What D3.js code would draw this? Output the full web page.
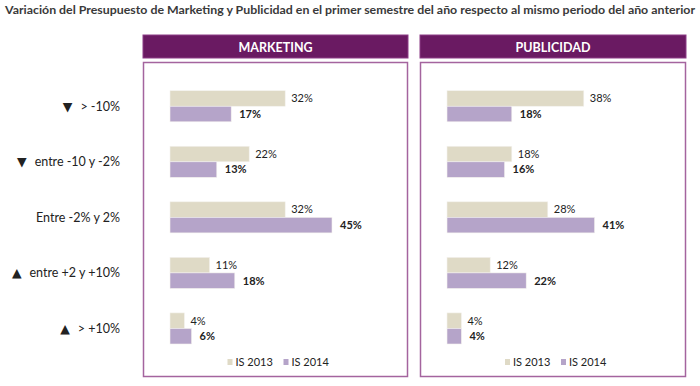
<!DOCTYPE html>
<html>
<head>
<meta charset="utf-8">
<script src="https://cdn.jsdelivr.net/npm/d3@7"></script>
<style>
  body { margin: 0; background: #fff; }
  svg { display: block; }
</style>
</head>
<body>
<svg id="chart" width="700" height="386"></svg>
<script>
const title = 'Variación del Presupuesto de Marketing y Publicidad en el primer semestre del año respecto al mismo periodo del año anterior';
const categories = ['▼ > -10%', '▼ entre -10 y -2%', 'Entre -2% y 2%', '▲ entre +2 y +10%', '▲ > +10%'];
const seriesNames = ['IS 2013', 'IS 2014'];
const panelNames = ['MARKETING', 'PUBLICIDAD'];
const marketing2013 = [32, 22, 32, 11, 4];
const marketing2014 = [17, 13, 45, 18, 6];
const publicidad2013 = [38, 18, 28, 12, 4];
const publicidad2014 = [18, 16, 41, 22, 4];

const colors = ['#dfdac6', '#b5a4c9'];
const font = 'Lato, "Open Sans", sans-serif';

const svg = d3.select('#chart');

svg.append('text')
    .attr('x', 5)
    .attr('y', 14)
    .attr('textLength', 690)
    .attr('lengthAdjust', 'spacingAndGlyphs')
    .style('font-family', font)
    .style('font-size', '11.5px')
    .style('font-weight', 700)
    .style('fill', '#3a3a3a')
    .text(title);

const y = d3.scaleBand()
    .domain(categories)
    .range([90.7, 344])
    .paddingInner(0.44)
    .paddingOuter(0);

const ySeries = d3.scaleBand()
    .domain(seriesNames)
    .range([0, y.bandwidth()]);

const x = d3.scaleLinear().domain([0, 50]).range([0, 180]);

// category labels on the left, triangle drawn a bit bigger
const catLabels = svg.append('g')
    .selectAll('text')
    .data(categories)
    .enter()
    .append('text')
    .attr('x', 120)
    .attr('y', (d) => y(d) + y.bandwidth() / 2)
    .attr('dy', '0.35em')
    .attr('text-anchor', 'end')
    .style('font-family', font)
    .style('font-size', '12.5px')
    .style('fill', '#222');

catLabels.each(function(d) {
  const t = d3.select(this);
  const first = d.charAt(0);
  if (first === '▼' || first === '▲') {
    t.append('tspan')
        .style('font-family', '"DejaVu Sans", sans-serif')
        .style('font-size', '12.5px')
        .text(first + '\u00a0\u00a0');
    t.append('tspan').text(d.slice(2));
  } else {
    t.text(d);
  }
});

const panels = [
  { name: panelNames[0], x0: 143, x1: 408, barX: 170, values: [marketing2013, marketing2014] },
  { name: panelNames[1], x0: 420, x1: 686, barX: 447, values: [publicidad2013, publicidad2014] }
];

panels.forEach((p) => {
  const g = svg.append('g');
  const w = p.x1 - p.x0;

  g.append('rect')
      .attr('x', p.x0)
      .attr('y', 35)
      .attr('width', w)
      .attr('height', 23)
      .style('fill', '#6a1a62')
      .style('stroke', '#8c3c86')
      .style('stroke-width', 1);

  g.append('text')
      .attr('x', p.x0 + w / 2)
      .attr('y', 47)
      .attr('dy', '0.36em')
      .attr('text-anchor', 'middle')
      .style('font-family', font)
      .style('font-size', '12.5px')
      .style('font-weight', 700)
      .style('fill', '#fff')
      .text(p.name);

  g.append('rect')
      .attr('x', p.x0 + 0.5)
      .attr('y', 62.5)
      .attr('width', w - 1)
      .attr('height', 314)
      .style('fill', 'none')
      .style('stroke', '#a4649e')
      .style('stroke-width', 1.5);

  p.values.forEach((vals, si) => {
    const s = seriesNames[si];
    g.append('g')
        .selectAll('rect')
        .data(vals)
        .enter()
        .append('rect')
        .attr('x', p.barX)
        .attr('y', (d, i) => y(categories[i]) + ySeries(s))
        .attr('width', (d) => x(d))
        .attr('height', ySeries.bandwidth())
        .style('fill', colors[si])
        .style('stroke', '#f4f2ee')
        .style('stroke-width', 0.6);

    g.append('g')
        .selectAll('text')
        .data(vals)
        .enter()
        .append('text')
        .attr('x', (d) => p.barX + x(d) + (si === 0 ? 6 : 8))
        .attr('y', (d, i) => y(categories[i]) + ySeries(s) + ySeries.bandwidth() / 2)
        .attr('dy', '0.35em')
        .style('font-family', font)
        .style('font-size', '11px')
        .style('font-weight', si === 0 ? 400 : 700)
        .style('fill', '#222')
        .text((d) => d + '%');
  });

  // legend
  const cx = p.x0 + w / 2;
  const legend = g.append('g')
      .attr('transform', `translate(${cx - 48},362)`);
  const items = legend.selectAll('g')
      .data(seriesNames)
      .enter()
      .append('g')
      .attr('transform', (d, i) => `translate(${i * 56},0)`);
  items.append('rect')
      .attr('x', 0)
      .attr('y', -3)
      .attr('width', 5)
      .attr('height', 6)
      .style('fill', (d, i) => colors[i]);
  items.append('text')
      .attr('x', 8)
      .attr('y', 0)
      .attr('dy', '0.35em')
      .style('font-family', font)
      .style('font-size', '11px')
      .style('fill', '#222')
      .text((d) => d);
});
</script>
</body>
</html>
